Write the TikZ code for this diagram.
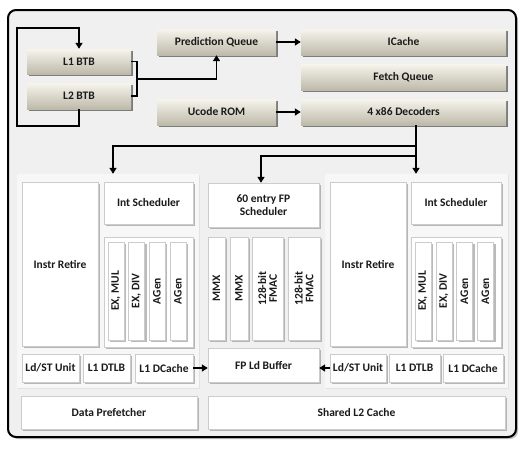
\documentclass[tikz,border=0pt]{standalone}
\usepackage{fontspec}
\setmainfont{Carlito}
\usepackage{graphicx}
\usetikzlibrary{arrows.meta}
\usetikzlibrary{shadows}
\usetikzlibrary{calc}
\definecolor{framebg}{RGB}{240,240,240}
\definecolor{panelbg}{RGB}{247,247,247}
\definecolor{tantop}{RGB}{246,244,236}
\definecolor{tanbot}{RGB}{190,186,170}
\definecolor{inktext}{RGB}{26,26,26}

\begin{document}
\begin{tikzpicture}[x=1pt, y=-1pt,
  font=\fontsize{11.5}{12.5}\selectfont\bfseries, text=inktext,
  tanbox/.style={top color=tantop, bottom color=tanbot, inner sep=1pt,
    drop shadow={shadow xshift=2pt, shadow yshift=-2pt, fill=black!70, opacity=.7}},
  whitebox/.style={fill=white, draw=black!20, inner sep=1pt, align=center,
    drop shadow={shadow xshift=2pt, shadow yshift=-2pt, fill=black!45, opacity=.6}},
  panel/.style={fill=panelbg, inner sep=0pt,
    drop shadow={shadow xshift=1pt, shadow yshift=-1pt, fill=black!15, opacity=.6}},
  flow/.style={line width=1.8pt, -{Triangle[length=6pt,width=7pt]}},
  bracket/.style={line width=1.6pt}]
\useasboundingbox (0,0) rectangle (526,450);
\draw[line width=2pt, rounded corners=8pt, fill=framebg,
  drop shadow={shadow xshift=2pt, shadow yshift=-2pt, fill=black!40, opacity=.6}]
  (8,10) rectangle (516,437);

\node[tanbox, minimum width=104, minimum height=25] (btb1) at (79,61.5) {L1 BTB};
\node[tanbox, minimum width=104, minimum height=26] (btb2) at (79,96) {L2 BTB};
\node[tanbox, minimum width=119, minimum height=26] (pq) at (216.5,42) {Prediction Queue};
\node[tanbox, minimum width=119, minimum height=26] (ucode) at (216.5,112) {Ucode ROM};
\node[tanbox, minimum width=205, minimum height=26] (icache) at (403.5,42) {ICache};
\node[tanbox, minimum width=205, minimum height=26] (fetchq) at (403.5,77) {Fetch Queue};
\node[tanbox, minimum width=205, minimum height=26] (decoders) at (403.5,112) {4 x86 Decoders};

\node[panel, minimum width=182, minimum height=214] (grpL) at (108,281) {};
\node[panel, minimum width=183, minimum height=214] (grpR) at (416.5,281) {};

\node[whitebox, minimum width=76, minimum height=164] (retireL) at (60,264) {Instr Retire};
\node[whitebox, minimum width=89, minimum height=42] (schedL) at (148.5,203) {Int Scheduler};
\node[whitebox, minimum width=89, minimum height=110] (execL) at (148.5,292) {};
\node[whitebox, minimum width=16, minimum height=98] (exmulL) at (116,291) {\rotatebox{90}{EX, MUL}};
\node[whitebox, minimum width=16, minimum height=98] (exdivL) at (136.5,291) {\rotatebox{90}{EX, DIV}};
\node[whitebox, minimum width=16, minimum height=98] (agenLa) at (157,291) {\rotatebox{90}{AGen}};
\node[whitebox, minimum width=16, minimum height=98] (agenLb) at (178,291) {\rotatebox{90}{AGen}};
\node[whitebox, minimum width=57, minimum height=28] (ldstL) at (50.5,368) {Ld/ST Unit};
\node[whitebox, minimum width=47, minimum height=28] (dtlbL) at (106.5,368) {L1 DTLB};
\node[whitebox, minimum width=58, minimum height=28] (dcacheL) at (164,368) {L1 DCache};

\node[whitebox, minimum width=111, minimum height=44] (fpsched) at (263.5,205) {60 entry FP\\Scheduler};
\node[whitebox, minimum width=17, minimum height=103] (mmxa) at (216.5,288.5) {\rotatebox{90}{MMX}};
\node[whitebox, minimum width=18, minimum height=103] (mmxb) at (239,288.5) {\rotatebox{90}{MMX}};
\node[whitebox, minimum width=31, minimum height=103] (fmaca) at (267.5,288.5)
  {\rotatebox{90}{\shortstack{128-bit\\FMAC}}};
\node[whitebox, minimum width=32, minimum height=103] (fmacb) at (304,288.5)
  {\rotatebox{90}{\shortstack{128-bit\\FMAC}}};
\node[whitebox, minimum width=111, minimum height=34] (fpld) at (263.5,365) {FP Ld Buffer};

\node[whitebox, minimum width=76, minimum height=164] (retireR) at (368,264) {Instr Retire};
\node[whitebox, minimum width=90, minimum height=42] (schedR) at (456,203) {Int Scheduler};
\node[whitebox, minimum width=90, minimum height=110] (execR) at (456,292) {};
\node[whitebox, minimum width=16, minimum height=98] (exmulR) at (423,291) {\rotatebox{90}{EX, MUL}};
\node[whitebox, minimum width=16, minimum height=98] (exdivR) at (444,291) {\rotatebox{90}{EX, DIV}};
\node[whitebox, minimum width=16, minimum height=98] (agenRa) at (464.5,291) {\rotatebox{90}{AGen}};
\node[whitebox, minimum width=16, minimum height=98] (agenRb) at (485.5,291) {\rotatebox{90}{AGen}};
\node[whitebox, minimum width=56, minimum height=28] (ldstR) at (358,368) {Ld/ST Unit};
\node[whitebox, minimum width=51, minimum height=28] (dtlbR) at (414.5,368) {L1 DTLB};
\node[whitebox, minimum width=60, minimum height=28] (dcacheR) at (473,368) {L1 DCache};

\node[whitebox, minimum width=176, minimum height=33] (prefetch) at (109,412.5) {Data Prefetcher};
\node[whitebox, minimum width=297, minimum height=33] (sharedl2) at (356.5,412.5) {Shared L2 Cache};

\coordinate (loop-sw) at (17,126);
\coordinate (loop-nw) at (17,28);
\draw[flow] (btb2.south) |- (loop-sw) -- (loop-nw) -| (btb1.north);
\draw[bracket]
     (btb1.east)
  -- ++(6,0) coordinate (brk-top)
  -- (brk-top |- btb2.east) coordinate (brk-bot)
  -- (btb2.east);
\draw[flow] ($(brk-top)!0.5!(brk-bot)$) -| (pq.south);
\draw[flow] (pq.east) -- (icache.west);
\draw[flow] (ucode.east) -- (decoders.west);

\coordinate (bus) at (416,125);
\coordinate (tapL) at (113,146);
\coordinate (tapF) at (261,156);
\draw[flow] (bus) -- (bus |- grpR.north);
\draw[flow] (bus) |- (tapL) -- (tapL |- grpL.north);
\draw[flow] (bus |- tapF) -- (tapF) -- (tapF |- fpsched.north);

\draw[flow] (dcacheL.east) -- (fpld.west |- dcacheL.east);
\draw[flow] (ldstR.west) -- (fpld.east |- ldstR.west);
\end{tikzpicture}
\end{document}
